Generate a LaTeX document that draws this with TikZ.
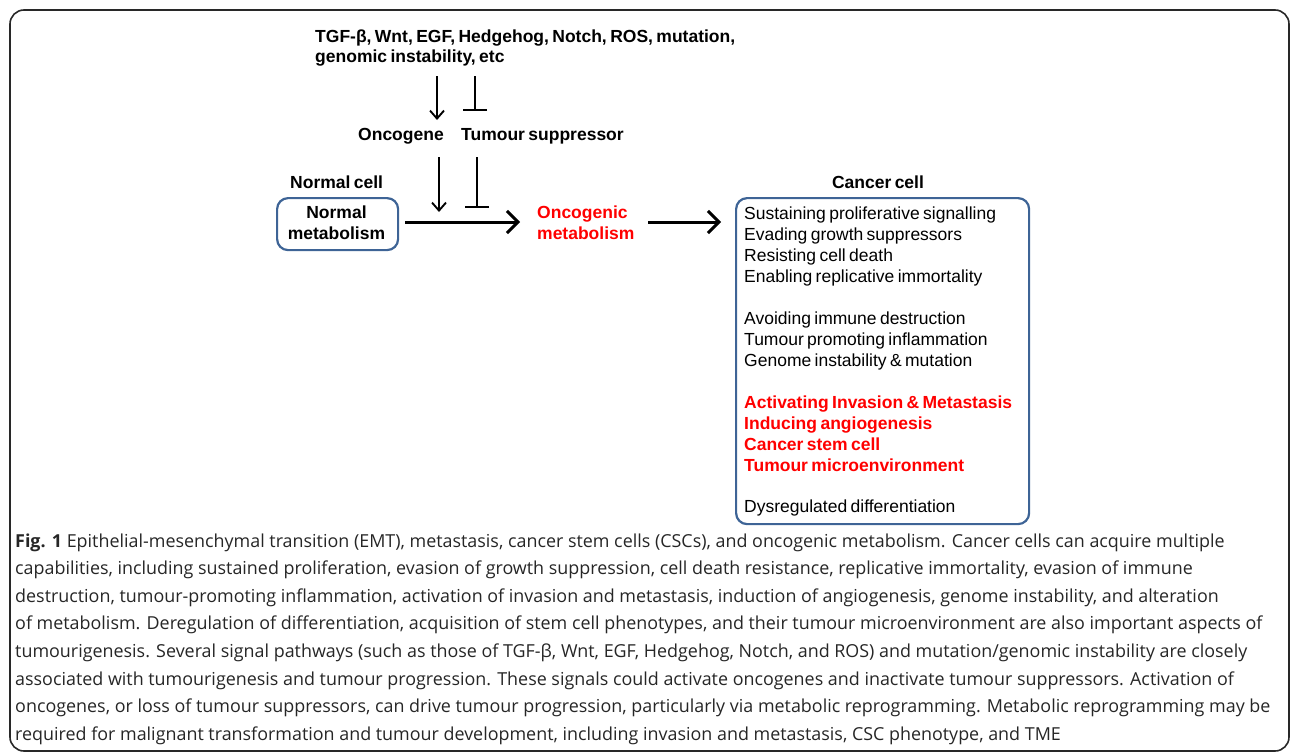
\documentclass[tikz,border=0pt]{standalone}
\usepackage{fontspec}
\setmainfont{Liberation Sans}
\newfontfamily\capfont{Open Sans}
\newfontfamily\diafont[WordSpace=0.7]{Liberation Sans}
\usetikzlibrary{arrows.meta}
\definecolor{boxblue}{RGB}{62,100,150}
\definecolor{hired}{RGB}{255,0,0}
\definecolor{framegray}{RGB}{40,40,40}
\begin{document}
\begin{tikzpicture}[x=1pt,y=-1pt,
  dia/.style={font=\diafont\fontsize{17.5}{21}\selectfont, inner sep=0pt, anchor=base west},
  diab/.style={dia, font=\diafont\bfseries\fontsize{17.5}{21}\selectfont},
  redb/.style={diab, text=hired},
  captext/.style={font=\capfont\fontsize{17.9}{27}\selectfont, inner sep=0pt, anchor=base west, text=black!85},
  rbox/.style={draw=boxblue, line width=2.2pt, rounded corners=11pt, anchor=north west, inner sep=0pt},
  thinarrow/.style={line width=1.9pt, -{Straight Barb[length=8pt,width=14pt,line width=1.9pt]}},
  bigarrow/.style={line width=3pt, -{Straight Barb[length=11pt,width=22pt,line width=3pt]}},
  inhib/.style={line width=1.9pt, -{Bar[width=24pt,line width=1.9pt]}}
]
\path[use as bounding box] (0,0) rectangle (1290,755);
% outer frame
\draw[framegray, line width=1.6pt, rounded corners=14pt] (10,10) rectangle (1289,751);

% top signals
\node[diab] (sig1) at (315,42) {TGF-β, Wnt, EGF, Hedgehog, Notch, ROS, mutation,};
\node[diab] (sig2) at (315,62) {genomic instability, etc};

% oncogene / tumour suppressor
\node[diab] (oncg) at (358,140) {Oncogene};
\node[diab] (tsup) at (461,140) {Tumour suppressor};

\coordinate (a1s) at (437,76);
\coordinate (a1e) at (437,120);
\coordinate (b1s) at (475,76);
\coordinate (b1e) at (475,111);
\draw[thinarrow] (a1s) -- (a1e);
\draw[inhib] (b1s) -- (b1e);

\coordinate (a2s) at (439,157);
\coordinate (a2e) at (439,212);
\coordinate (b2s) at (477,157);
\coordinate (b2e) at (477,208);
\draw[thinarrow] (a2s) -- (a2e);
\draw[inhib] (b2s) -- (b2e);

% normal cell
\node[diab] (ncl) at (290,188) {Normal cell};
\node[rbox, minimum width=121pt, minimum height=52pt] (normal) at (276,197) {};
\node[diab, anchor=base] (nm1) at (336.5,218) {Normal};
\node[diab, anchor=base] (nm2) at (336.5,239) {metabolism};

% oncogenic metabolism
\node[redb] (onco1) at (537,218) {Oncogenic};
\node[redb] (onco2) at (537,239) {metabolism};
\coordinate (ms) at (405,222);
\coordinate (me) at (520,222);
\draw[bigarrow] (ms) -- (me);
\coordinate (ns) at (648,222);
\coordinate (ne) at (721,222);
\draw[bigarrow] (ns) -- (ne);

% cancer cell
\node[diab, anchor=base] (ccl) at (878,188) {Cancer cell};
\node[rbox, minimum width=293pt, minimum height=326pt] (cancer) at (735,197) {};
\node[dia] (c1) at (744,219) {Sustaining proliferative signalling};
\node[dia] (c2) at (744,240) {Evading growth suppressors};
\node[dia] (c3) at (744,261) {Resisting cell death};
\node[dia] (c4) at (744,282) {Enabling replicative immortality};
\node[dia] (c5) at (744,324) {Avoiding immune destruction};
\node[dia] (c6) at (744,345) {Tumour promoting inflammation};
\node[dia] (c7) at (744,366) {Genome instability \& mutation};
\node[redb] (c8) at (744,408) {Activating Invasion \& Metastasis};
\node[redb] (c9) at (744,429) {Inducing angiogenesis};
\node[redb] (c10) at (744,450) {Cancer stem cell};
\node[redb] (c11) at (744,471) {Tumour microenvironment};
\node[dia] (c12) at (744,512) {Dysregulated differentiation};

% caption
\node[captext] (l1) at (15,547) {\textbf{Fig. 1} Epithelial-mesenchymal transition (EMT), metastasis, cancer stem cells (CSCs), and oncogenic metabolism. Cancer cells can acquire multiple};
\node[captext] (l2) at (15,574.6) {capabilities, including sustained proliferation, evasion of growth suppression, cell death resistance, replicative immortality, evasion of immune};
\node[captext] (l3) at (15,602.2) {destruction, tumour-promoting inflammation, activation of invasion and metastasis, induction of angiogenesis, genome instability, and alteration};
\node[captext] (l4) at (15,629.8) {of metabolism. Deregulation of differentiation, acquisition of stem cell phenotypes, and their tumour microenvironment are also important aspects of};
\node[captext] (l5) at (15,657.4) {tumourigenesis. Several signal pathways (such as those of TGF-β, Wnt, EGF, Hedgehog, Notch, and ROS) and mutation/genomic instability are closely};
\node[captext] (l6) at (15,685) {associated with tumourigenesis and tumour progression. These signals could activate oncogenes and inactivate tumour suppressors. Activation of};
\node[captext] (l7) at (15,712.6) {oncogenes, or loss of tumour suppressors, can drive tumour progression, particularly via metabolic reprogramming. Metabolic reprogramming may be};
\node[captext] (l8) at (15,740.2) {required for malignant transformation and tumour development, including invasion and metastasis, CSC phenotype, and TME};
\end{tikzpicture}
\end{document}
